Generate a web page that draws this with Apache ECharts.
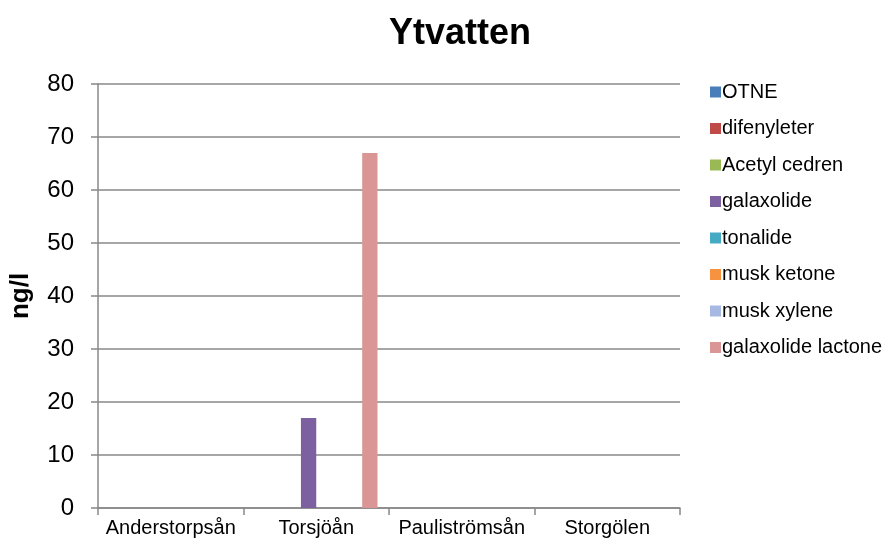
<!DOCTYPE html>
<html>
<head>
<meta charset="utf-8">
<script src="https://cdn.jsdelivr.net/npm/echarts@6/dist/echarts.min.js"></script>
<style>
  html, body { margin: 0; padding: 0; background: #fff; }
  #chart { width: 895px; height: 545px; }
</style>
</head>
<body>
<div id="chart"></div>
<script>
// categories (sites)
var sites = ["Anderstorpsån", "Torsjöån", "Pauliströmsån", "Storgölen"];
// substances and their colours
var substances = ["OTNE", "difenyleter", "Acetyl cedren", "galaxolide", "tonalide", "musk ketone", "musk xylene", "galaxolide lactone"];
var colors = ["#4a7ebb", "#be4b48", "#98b954", "#7d60a0", "#46aac5", "#f69240", "#a7b9e3", "#d99694"];
// values per substance, ng/l, one entry per site
var otne = [0, 0, 0, 0];
var difenyleter = [0, 0, 0, 0];
var acetylCedren = [0, 0, 0, 0];
var galaxolide = [0, 17, 0, 0];
var tonalide = [0, 0, 0, 0];
var muskKetone = [0, 0, 0, 0];
var muskXylene = [0, 0, 0, 0];
var galaxolideLactone = [0, 67, 0, 0];
var valueRows = [otne, difenyleter, acetylCedren, galaxolide, tonalide, muskKetone, muskXylene, galaxolideLactone];
// y axis ticks
var yMin = 0, yMax = 80, yStep = 10;

var myChart = echarts.init(document.getElementById("chart"));
var seriesArr = [];
for (var i = 0; i < substances.length; i++) {
  seriesArr.push({
    name: substances[i],
    type: "bar",
    data: valueRows[i],
    barGap: "0%",
    barCategoryGap: "15.8%",
    itemStyle: { color: colors[i] }
  });
}
var option = {
  animation: false,
  backgroundColor: "#fff",
  textStyle: { fontFamily: "Liberation Sans, Arial, sans-serif" },
  title: {
    text: "Ytvatten",
    left: 455,
    textAlign: "center",
    top: 11,
    textStyle: { fontSize: 36, fontWeight: "bold", color: "#000" }
  },
  legend: {
    orient: "vertical",
    left: 705,
    top: 77,
    itemWidth: 11,
    itemHeight: 11,
    itemGap: 16.5,
    icon: "rect",
    textStyle: { fontSize: 20, color: "#000", padding: [0, 0, 0, -4] },
    data: substances
  },
  grid: { left: 98, right: 215, top: 84, bottom: 37 },
  xAxis: {
    type: "category",
    data: sites,
    axisLine: { lineStyle: { color: "#888", width: 1.5 } },
    axisTick: { show: true, length: 7, lineStyle: { color: "#888", width: 1.5 } },
    axisLabel: { interval: 0, hideOverlap: false, fontSize: 20, color: "#000", margin: 10 },
    splitLine: { show: false }
  },
  yAxis: {
    type: "value",
    min: yMin,
    max: yMax,
    interval: yStep,
    name: "ng/l",
    nameLocation: "middle",
    nameGap: 64,
    nameTextStyle: { fontSize: 26, fontWeight: "bold", color: "#000" },
    axisLine: { show: true, lineStyle: { color: "#888", width: 1.5 } },
    axisTick: { show: true, length: 7, lineStyle: { color: "#888", width: 1.5 } },
    axisLabel: { fontSize: 24, color: "#000", margin: 24 },
    splitLine: { show: true, lineStyle: { color: "#888", width: 1.5 } }
  },
  series: seriesArr
};
myChart.setOption(option, true);
</script>
</body>
</html>
